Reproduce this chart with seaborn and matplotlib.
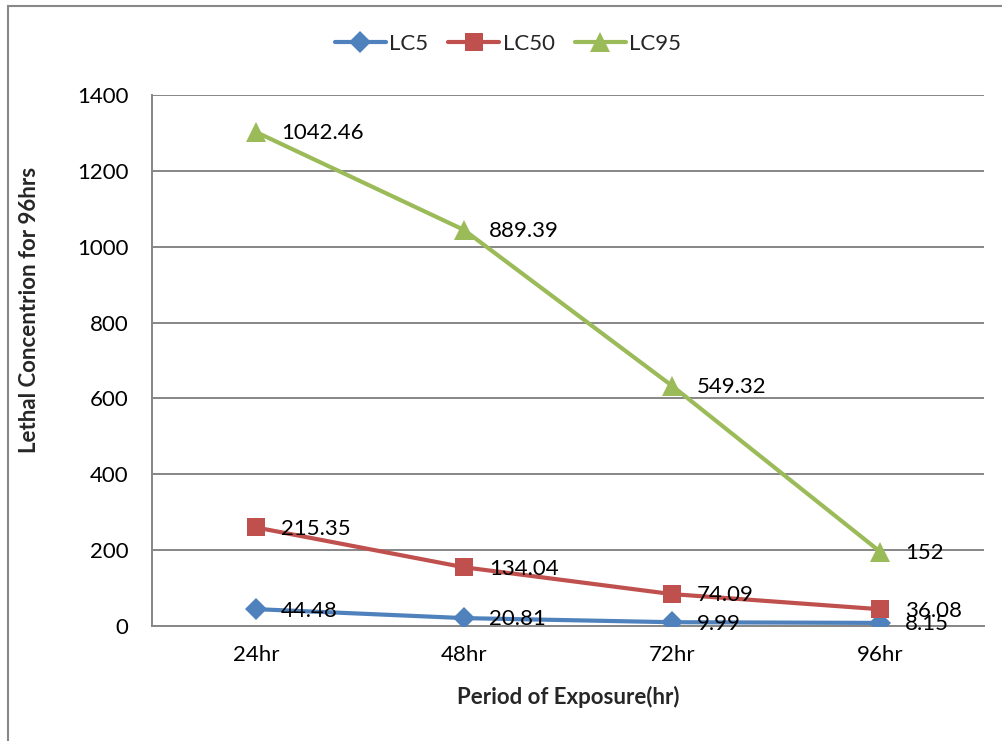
import numpy as np
import pandas as pd
import matplotlib
matplotlib.use("Agg")
import matplotlib.pyplot as plt
from matplotlib.patches import Rectangle
import seaborn as sns

# Lethal concentration estimates per exposure period
periods = ["24hr", "48hr", "72hr", "96hr"]
lc5 = [44.48, 20.81, 9.99, 8.15]
lc50 = [215.35, 134.04, 74.09, 36.08]
lc95 = [1042.46, 889.39, 549.32, 152]

series_names = ["LC5", "LC50", "LC95"]
series_values = [lc5, lc50, lc95]
colors = {"LC5": "#4F81BD", "LC50": "#C0504D", "LC95": "#9BBB59"}
markers = {"LC5": "D", "LC50": "s", "LC95": "^"}
msizes = {"LC5": 11, "LC50": 13.5, "LC95": 14}

# stacked line chart: each series sits on top of the previous ones
stacked = np.cumsum(np.array(series_values, dtype=float), axis=0)
rows = []
for name, vals, tops in zip(series_names, series_values, stacked):
    for i, (p, v, t) in enumerate(zip(periods, vals, tops)):
        rows.append({"period": p, "x": i, "series": name, "value": v, "stacked": t})
df = pd.DataFrame(rows)

sns.set_theme(style="white")
plt.rcParams["font.family"] = ["Lato", "DejaVu Sans"]
FS = 16

fig = plt.figure(figsize=(10.02, 7.41), dpi=100)
ax = fig.add_axes([152 / 1002, 1 - 626 / 741, (984 - 152) / 1002, (626 - 95) / 741])

for name in series_names:
    sub = df[df["series"] == name]
    sns.lineplot(data=sub, x="x", y="stacked", ax=ax, color=colors[name],
                 linewidth=3.0, marker=markers[name], markersize=msizes[name],
                 markeredgewidth=0, label=name, sort=False, zorder=3)
    for _, r in sub.iterrows():
        ax.annotate(f"{r['value']:g}", (r["x"], r["stacked"]),
                    xytext=(18, -1), textcoords="offset points",
                    ha="left", va="center", fontsize=FS, color="black", zorder=4)

ax.set_xlim(-0.5, 3.5)
ax.set_ylim(0, 1400)
ax.set_yticks(np.arange(0, 1401, 200))
ax.set_xticks(range(len(periods)))
ax.set_xticklabels(periods)
ax.tick_params(axis="both", labelsize=FS, colors="black", length=0)
ax.tick_params(axis="x", pad=14)
ax.tick_params(axis="y", pad=17)
ax.yaxis.grid(True, color="#868686", linewidth=1.4)
ax.set_axisbelow(True)
for side in ["top", "right"]:
    ax.spines[side].set_visible(False)
for side in ["left", "bottom"]:
    ax.spines[side].set_color("#868686")
    ax.spines[side].set_linewidth(1.4)

ax.set_xlabel("Period of Exposure(hr)", fontsize=FS, fontweight="bold")
ax.set_ylabel("Lethal Concentrion for 96hrs", fontsize=FS, fontweight="bold")
ax.xaxis.set_label_coords((568 - 152) / 832, (626 - 697) / 531)
ax.xaxis.label.set_va("center")
ax.yaxis.set_label_coords((30 - 152) / 832, (626 - 310) / 531)
ax.yaxis.label.set_va("center")

ax.legend(loc="center", bbox_to_anchor=((508 - 152) / 832, 1 + (95 - 44) / 531),
          ncol=3, frameon=False, fontsize=FS, handlelength=2.3,
          columnspacing=0.9, handletextpad=0.15)

# outer chart border
fig.patches.append(Rectangle((8 / 1002, -0.1), 1.2, 1 - 6 / 741 + 0.1,
                             transform=fig.transFigure, fill=False,
                             edgecolor="#888888", linewidth=1.5))

fig.savefig("out.png", dpi=100)
